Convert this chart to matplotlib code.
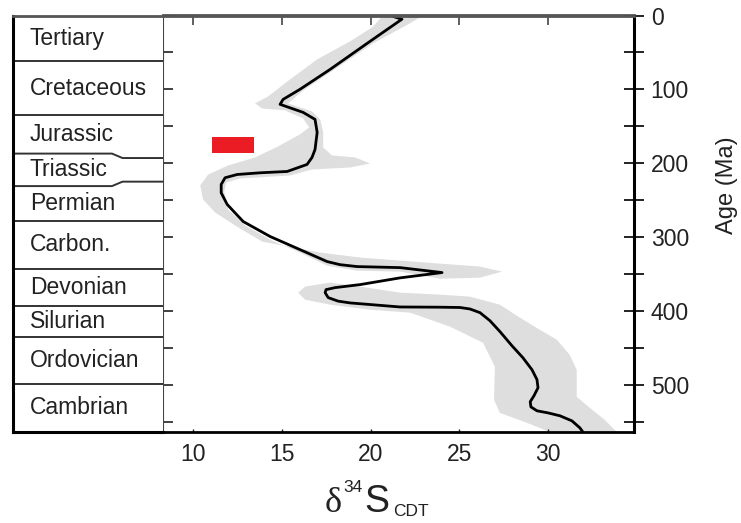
import numpy as np
import matplotlib
matplotlib.use("Agg")
import matplotlib.pyplot as plt
from matplotlib.transforms import IdentityTransform

plt.rcParams["font.family"] = ["Liberation Sans", "DejaVu Sans"]

# geological column: period names and boundary ages (Ma); two boundaries are kinked
periods = ["Tertiary", "Cretaceous", "Jurassic", "Triassic", "Permian",
           "Carbon.", "Devonian", "Silurian", "Ordovician", "Cambrian"]
bound_left = [0, 62, 135, 187, 231, 278, 343, 393, 435, 499, 564]
bound_right = [0, 62, 135, 193, 225, 278, 343, 393, 435, 499, 564]

# delta34S curve (per mil CDT) vs age (Ma)
curve_d = [21.1, 21.77, 19.97, 17.72, 16.02, 15.07, 14.9, 16.2, 16.87, 16.99,
           16.87, 16.7, 16.42, 15.3, 13.77, 12.48, 11.8, 11.58, 11.58, 11.92,
           12.82, 14.34, 16.02, 17.55, 18.28, 19.24, 21.66, 24.03, 21.66, 19.41,
           18.0, 17.49, 17.44, 17.61, 18.17, 18.85, 21.66, 23.92, 25.04, 25.6,
           26.17, 26.73, 27.3, 27.97, 28.59, 29.1, 29.38, 29.44, 29.21, 29.0,
           29.04, 29.38, 30.0, 30.68, 31.35, 31.8, 31.97]
curve_age = [0, 5, 35, 73, 100, 113.6, 120.3, 131.2, 140.7, 158.3,
             181.4, 192.2, 201.7, 211.2, 213, 215.3, 219.7, 228.8, 240.1, 255.9,
             279, 299.3, 317, 333.2, 337.4, 340, 341.4, 348.1, 355.3, 364.4,
             368.5, 371.2, 375.3, 382, 386.8, 389.2, 394.7, 395, 395.4, 397.4,
             402.4, 413.3, 428.2, 447.2, 463.5, 479.7, 493, 504, 515, 523,
             530, 535.3, 538.1, 542.1, 548.9, 558.4, 564]

# uncertainty envelope, upper part (0 - ~355 Ma)
band_up_d = [20.7, 20.1, 18.85, 17.0, 15.47, 14.23, 13.49, 13.88, 15.19, 16.2,
             16.54, 16.02, 14.79, 13.49, 11.97, 10.85, 10.4, 10.56, 11.24, 12.37,
             13.88, 15.47, 17.16, 19.41, 21.66, 23.91, 26.17, 27.41, 26.17, 23.91,
             21.66, 19.24, 17.55, 16.02, 14.44, 12.94, 11.97, 11.75, 11.87, 12.66,
             15.47, 16.7, 18.85, 19.97, 19.13, 17.83, 17.33, 17.33, 17.16, 16.7,
             15.35, 16.2, 17.89, 20.15, 22.23, 22.79, 22.68]
band_up_age = [0, 15.9, 34.9, 59.3, 86.4, 109.5, 118.9, 125.8, 128.5, 139.3,
               151.5, 161, 177.3, 192.2, 203.1, 215.3, 230.1, 249.2, 266.8, 284.4,
               306.1, 313.3, 321, 327.8, 331.9, 336, 340, 346.8, 355, 356.4,
               346.8, 345.5, 338.7, 321, 304.8, 284.4, 262.7, 238.3, 226.1, 220.7,
               216.6, 208.5, 205.8, 200.4, 192.2, 189.5, 178.7, 158.3, 140.7, 129.8,
               119, 101.6, 74.2, 37.6, 10.5, 2.4, 0]

# uncertainty envelope, lower part (~360 Ma - base)
band_low_d = [16.31, 17.72, 19.41, 21.66, 23.91, 25.6, 27.29, 28.42, 29.54, 30.5,
              31.22, 31.62, 31.62, 32.36, 33.2, 33.88, 30.11, 28.82, 27.29, 26.96,
              27.01, 26.34, 24.48, 22.23, 19.97, 17.72, 16.31, 15.92]
band_low_age = [367.1, 361.7, 367.1, 375.3, 378, 380.7, 391.6, 409.2, 425.5, 439,
                459.4, 479.8, 516.4, 531.3, 547.6, 564, 564, 551.6, 538.1, 520.4,
                475.7, 443.1, 421.4, 402.4, 398.4, 391.6, 384.8, 375.3]

# red bar: measured value
red_d = [11.05, 13.45]
red_age = [165, 186]

x_ticks = [10, 15, 20, 25, 30]
age_major = [0, 100, 200, 300, 400, 500]
age_minor = [50, 150, 250, 350, 450, 550]

W, H = 741, 523
fig = plt.figure(figsize=(W / 100, H / 100), dpi=100)
bottom = 1 - 432 / H
height = (432 - 15.5) / H
ax = fig.add_axes([163 / W, bottom, (634 - 163) / W, height])
col = fig.add_axes([13 / W, bottom, 150 / W, height])

band_color = "#dedede"
ax.fill(band_up_d, band_up_age, color=band_color, lw=0)
ax.fill(band_low_d, band_low_age, color=band_color, lw=0)
ax.plot(curve_d, curve_age, color="black", lw=2.0, solid_joinstyle="round",
        solid_capstyle="round")
ax.fill_betweenx(red_age, red_d[0], red_d[1], color="#ec1c24", lw=0)

ax.set_xlim(8.3, 34.85)
ax.set_ylim(564, 0)
ax.set_xticks(x_ticks)
ax.tick_params(axis="x", direction="in", length=2.5, width=1, labelsize=16.5,
               pad=8, colors="#222222")
ax.set_yticks(age_major + age_minor)
ax.tick_params(axis="y", direction="in", length=7, width=1.3, labelleft=False,
               color="#333333")
for s in ["top", "bottom", "right"]:
    ax.spines[s].set_linewidth(2.0)
ax.spines["top"].set_color("#555555")
ax.spines["left"].set_linewidth(1.5)
ax.spines["left"].set_color("#444444")

secx = ax.secondary_xaxis("top")
secx.set_xticks(x_ticks)
secx.tick_params(direction="in", length=7, width=1.2, labeltop=False,
                 color="#444444")
secx.spines["top"].set_linewidth(2.0)
secx.spines["top"].set_color("#555555")

secy = ax.secondary_yaxis("right")
secy.set_yticks(age_major)
secy.set_yticks(age_minor, minor=True)
secy.tick_params(which="both", direction="inout", length=14, width=1.4,
                 labelsize=16.5, pad=5, colors="#222222")
secy.spines["right"].set_linewidth(2.2)

# y label, to the right of the tick labels
fig.text(727, H - 185, "Age (Ma)", transform=IdentityTransform(), rotation=90,
         ha="center", va="center", fontsize=17, color="#222222")

# x label built from pieces so the super/subscripts stay small
renderer = fig.canvas.get_renderer()
x_cursor = 325
baseline = H - 512
pieces = [("δ", 26, 0, "Liberation Serif", 1), ("34", 12.5, 20, "Liberation Sans", 2),
          ("S", 27, 0, "Liberation Sans", 4), ("CDT", 12.5, -4, "Liberation Sans", 0)]
for s, size, dy, family, gap in pieces:
    t = fig.text(x_cursor, baseline + dy, s, transform=IdentityTransform(),
                 fontsize=size, family=family, ha="left", va="baseline",
                 color="#222222")
    x_cursor += t.get_window_extent(renderer).width + gap

# geological time column
col.set_xlim(0, 1)
col.set_ylim(564, 0)
col.set_xticks([])
col.set_yticks([])
col.spines["right"].set_visible(False)
col.spines["left"].set_linewidth(2.2)
col.spines["top"].set_linewidth(2.0)
col.spines["top"].set_color("#555555")
col.spines["bottom"].set_linewidth(2.2)
for bl, br in zip(bound_left[1:-1], bound_right[1:-1]):
    col.plot([0, 0.66, 0.73, 1], [bl, bl, br, br], color="#333333", lw=1.4)
for i, name in enumerate(periods):
    mid = (bound_left[i] + bound_left[i + 1]) / 2
    col.text(0.113, mid, name, ha="left", va="center", fontsize=16.5,
             color="#222222")

fig.savefig("out.png", dpi=100)
